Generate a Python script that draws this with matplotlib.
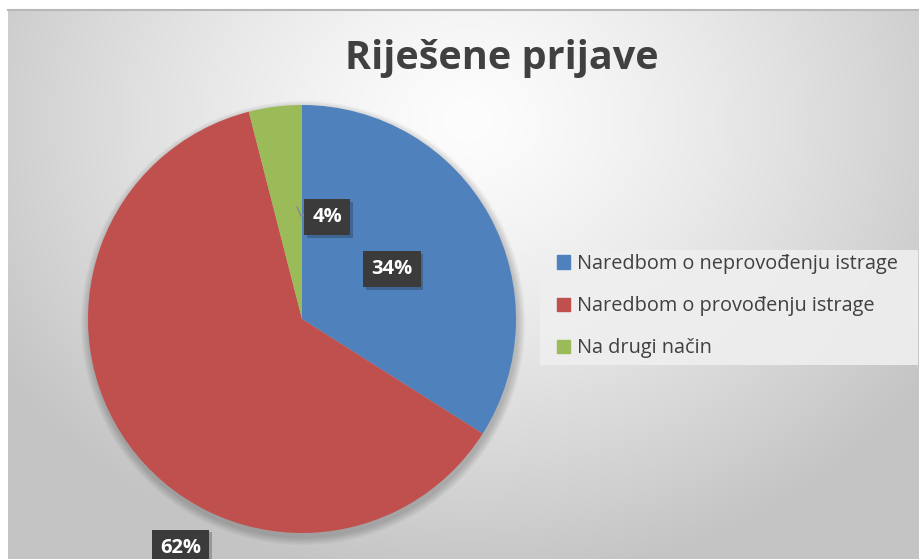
import numpy as np
import matplotlib.pyplot as plt
import matplotlib.patheffects as path_effects
from matplotlib.patches import Circle, Patch, Rectangle

W, H = 919, 559

categories = ["Naredbom o neprovođenju istrage", "Naredbom o provođenju istrage", "Na drugi način"]
shares = [34, 62, 4]
colors = ["#4f81bd", "#c0504d", "#9bbb59"]
title = "Riješene prijave"

# label placement as (radius fraction, angle deg) from pie centre
label_pos = [(0.48, 29), (1.21, 242), (0.49, 76)]

plt.rcParams["font.family"] = ["Open Sans", "DejaVu Sans"]

fig = plt.figure(figsize=(W / 100, H / 100), dpi=100)
fig.patch.set_facecolor("white")

# background gradient of the chart area
bg = fig.add_axes([8 / W, 0, 1 - 8 / W, 1 - 10 / H])
yy, xx = np.mgrid[0:549, 0:911]
r = np.sqrt(((xx - 460) / 560.0) ** 2 + ((yy - 110) / 470.0) ** 2)
val = np.clip(253 - 58 * r ** 1.3, 196, 255) / 255.0
bg.imshow(np.dstack([val, val, val]), aspect="auto", extent=(0, 1, 0, 1))
bg.set_axis_off()
fig.add_artist(plt.Line2D([8 / W, 1], [1 - 10 / H] * 2, color="#b8b8b8", lw=1.5))

ax = fig.add_axes([0, 0, 1, 1])
ax.patch.set_alpha(0)

cx, cy, R = 302, H - 319, 214

# soft shadow below the pie
for i in range(10):
    ax.add_patch(Circle((cx + 1, cy - 4), R + 1 + i * 0.8, color="black", alpha=0.018, lw=0))

wedges, _ = ax.pie(shares, colors=colors, startangle=90, counterclock=False,
                   center=(cx, cy), radius=R, frame=True,
                   wedgeprops=dict(linewidth=0))
ax.set_xlim(0, W)
ax.set_ylim(0, H)
ax.set_axis_off()

# leader line for the small slice
ax.plot([cx - 5, cx - 1, cx + 6], [H - 207, H - 216, H - 214], color="#8a8a8a", lw=1)

for val_, (rf, ang) in zip(shares, label_pos):
    lx = cx + rf * R * np.cos(np.radians(ang))
    ly = cy + rf * R * np.sin(np.radians(ang))
    t = ax.text(lx, ly, f"{val_}%", fontsize=14.5, fontweight="bold", color="white",
                ha="center", va="center",
                bbox=dict(boxstyle="square,pad=0.4", fc="#3b3b3b", ec="none"))
    t.get_bbox_patch().set_path_effects([
        path_effects.SimplePatchShadow(offset=(2, -2), alpha=0.25),
        path_effects.Normal(),
    ])

fig.text(502 / W, 1 - 58 / H, title, fontsize=28.5, fontweight="bold", color="#404040",
         ha="center", va="center")

# legend background panel
ax.add_patch(Rectangle((540, H - 365), 378, 115, fc="#efefef", ec="none", alpha=0.9))

handles = [Patch(color=c) for c in colors]
leg = fig.legend(handles, categories, loc="upper left", bbox_to_anchor=(555 / W, 1 - 252 / H),
                 fontsize=14.3, frameon=False, handlelength=0.65,
                 handleheight=0.65, handletextpad=0.35, labelspacing=1.12,
                 borderpad=0.1, borderaxespad=0)
for t in leg.get_texts():
    t.set_color("#404040")

fig.savefig("out.png", dpi=100)
